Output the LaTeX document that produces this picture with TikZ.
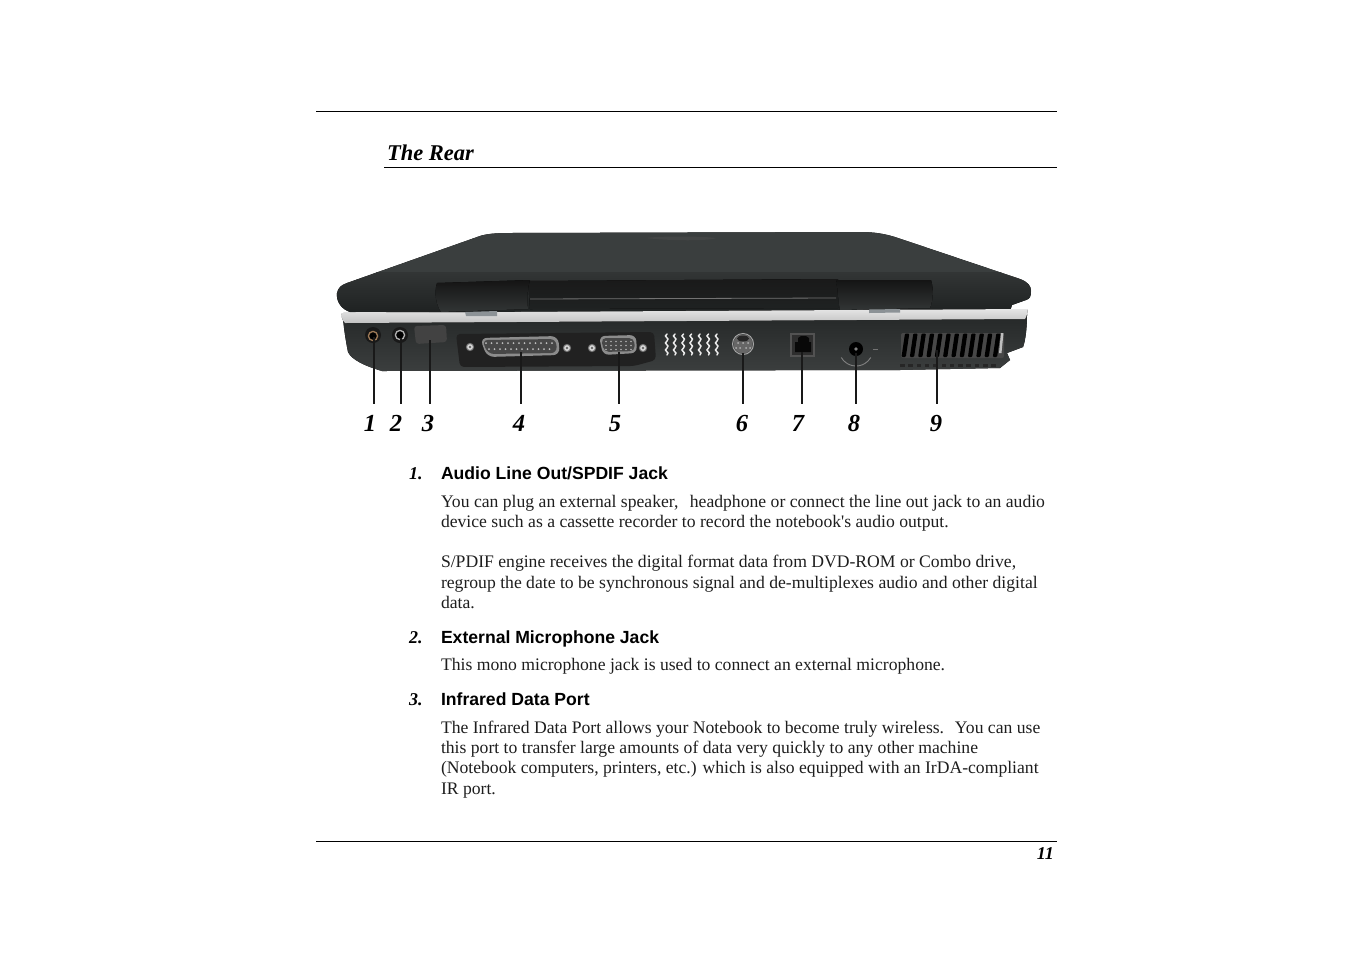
\documentclass[tikz,border=0pt]{standalone}
\usepackage{fontspec}
\setmainfont{Liberation Serif}
\newfontfamily\hsans{Liberation Sans}
\usetikzlibrary{calc}
\definecolor{ink}{HTML}{1E1E1E}
\definecolor{lidA}{HTML}{4B5050}
\definecolor{lidE}{HTML}{3A3E3E}
\definecolor{lidD}{HTML}{323535}
\definecolor{lidB}{HTML}{1F2222}
\definecolor{bodyA}{HTML}{252828}
\definecolor{bodyB}{HTML}{3B3E3E}
\definecolor{steel}{HTML}{8C9296}
\tikzset{
  rulefine/.style={line width=0.9pt,black},
  leader/.style={line width=1.6pt,black!90},
  bodytext/.style={anchor=base west,inner sep=0,outer sep=0,text=ink,font=\fontsize{17.64}{20}\selectfont},
  headtext/.style={anchor=base west,inner sep=0,outer sep=0,text=black,font=\hsans\bfseries\fontsize{17.6}{20}\selectfont},
  headnum/.style={anchor=base west,inner sep=0,outer sep=0,text=black,font=\bfseries\itshape\fontsize{18}{20}\selectfont},
  calloutnum/.style={anchor=base,inner sep=0,outer sep=0,text=black,font=\bfseries\itshape\fontsize{24.5}{28}\selectfont},
  titletext/.style={anchor=base west,inner sep=0,outer sep=0,text=black,font=\bfseries\itshape\fontsize{22.5}{26}\selectfont},
  screw/.style={fill=black!15,draw=black!55,line width=1pt},
}
\begin{document}
\begin{tikzpicture}[x=1pt,y=-1pt]
\useasboundingbox (0,0) rectangle (1351,954);
\fill[white] (0,0) rectangle (1351,954);
% rules
\coordinate (r1a) at (316,111.5); \coordinate (r1b) at (1057,111.5);
\coordinate (r2a) at (384,167.5); \coordinate (r2b) at (1057,167.5);
\coordinate (r3a) at (316,841.5); \coordinate (r3b) at (1057,841.5);
\draw[rulefine] (r1a)--(r1b);
\draw[rulefine] (r2a)--(r2b);
\draw[rulefine] (r3a)--(r3b);
\node[titletext] (title) at (387,160) {The Rear};
\node[anchor=base east,inner sep=0,font=\bfseries\itshape\fontsize{18}{20}\selectfont] (pageno) at (1054,859) {11};

% ---- laptop: lid
\begin{scope}
\clip
 (337,293) .. controls (338,288) and (341,285) .. (347,283)
 -- (480,236) .. controls (486,234) and (495,233) .. (510,233)
 -- (860,232) .. controls (875,232) and (885,234) .. (895,237)
 -- (1020,279) .. controls (1028,282) and (1031,286) .. (1031,291)
 .. controls (1031,296) and (1030,299) .. (1026,300)
 -- (1012,305) -- (1010,311) -- (350,312)
 .. controls (341,309) and (336,301) .. (337,293) -- cycle;
\fill[left color=lidE,middle color=lidA,right color=lidE] (330,230) rectangle (1040,272);
\fill[top color=lidD,bottom color=lidB] (330,272) rectangle (1040,312);
\fill[black!70,opacity=.55] (646,238) .. controls (670,241) and (710,241) .. (716,238) .. controls (700,236) and (660,236) .. (646,238) -- cycle;
\end{scope}
% centre bar
\fill[top color=black!90,bottom color=lidB] (528,281) -- (838,279) -- (838,308) -- (530,309) -- cycle;
\draw[black!55,line width=.8pt] (530,299) -- (836,298);
% hinges
\fill[top color=black!92,bottom color=lidD] (437,283) -- (530,280)
  .. controls (527,290) and (527,300) .. (528,309) -- (441,312)
  .. controls (436,305) and (434,292) .. (437,283) -- cycle;
\fill[top color=black!92,bottom color=lidD] (836,280) -- (931,280)
  .. controls (934,290) and (933,300) .. (930,308) -- (840,310)
  .. controls (838,300) and (838,290) .. (836,280) -- cycle;

% ---- base
\fill[top color=bodyA,bottom color=bodyB]
 (343,318) -- (1027,314)
 .. controls (1027,330) and (1025,342) .. (1023,347)
 -- (1007,353) -- (1010,360) -- (1000,368) -- (900,370) -- (382,371)
 .. controls (365,366) and (352,360) .. (348,352)
 .. controls (346,342) and (344,330) .. (343,318) -- cycle;
% silver band
\fill[top color=black!10,bottom color=black!24]
 (342,313) -- (1027,309) .. controls (1028,311) and (1027,316) .. (1025,319)
 -- (345,323) .. controls (342,320) and (341,316) .. (342,313) -- cycle;
\fill[steel] (465,312) -- (497,311) -- (497,316) -- (466,316) -- cycle;
\fill[steel] (869,309.5) -- (900,309) -- (900,312.5) -- (869,313) -- cycle;

% audio jacks
\fill[black!90] (373,335) circle (8);
\draw[brown!70!black!80,line width=1.3pt] (373,336) circle (4.6);
\fill[black] (373,336) circle (3.4);
\fill[black!90] (400,335) circle (8);
\draw[black!30,line width=1.3pt] (400,335) circle (4.6);
\fill[black] (400,335) circle (3.4);
% IR window
\fill[black!74,rounded corners=3pt] (414,326) -- (446,325) -- (447,342) -- (416,344) -- cycle;
% port panel
\fill[black!87,rounded corners=4pt] (456,334) -- (654,332) -- (656,360) -- (634,366) -- (460,367) -- cycle;
% parallel
\fill[black!45,rounded corners=7pt] (480,338) -- (558,336) -- (560,355) -- (487,357) -- cycle;
\fill[black!72,rounded corners=6pt] (482,340) -- (556,339) -- (557,353) -- (488,354) -- cycle;
\foreach \i in {0,...,12} \fill[black!25] ({486+5.5*\i},343) circle (1);
\foreach \i in {0,...,11} \fill[black!25] ({489+5.5*\i},349) circle (1);
% VGA
\fill[black!45,rounded corners=6pt] (599,336) -- (636,335) -- (637,353) -- (603,355) -- cycle;
\fill[black!72,rounded corners=5pt] (601,338) -- (634,338) -- (635,351) -- (604,352) -- cycle;
\foreach \i in {0,...,5} \foreach \j in {0,1,2} \fill[black!30] ({606+5*\i},{341.5+4*\j}) circle (.9);
% screws
\foreach \p in {(470,347),(567,348),(592,348),(643,348)} {
  \fill[screw] \p circle (3.6);
  \fill[black!60] \p circle (1.3);
}
% centre vent
\foreach \x in {667,675,683.5,691.5,700,708.5,717} {
  \draw[black!8,line width=1.5pt,line cap=round] (\x,334)
    .. controls (\x-5,337) and (\x+4,338) .. (\x,341)
    .. controls (\x-5,344) and (\x+4,345) .. (\x,348)
    .. controls (\x-5,351) and (\x+4,352) .. (\x,355);
}
% S-video
\fill[black!60] (743,344) circle (9.5);
\fill[black!85] (743,338.5) ellipse (6 and 3);
\draw[black!35,line width=1pt] (743,344) circle (10.5);
\foreach \a/\b in {738/343,743/343,748/343,736/348,740/348,746/348,750/348}
  \fill[black!30] (\a,\b) circle (1);
% RJ
\fill[black!68] (790,332.5) rectangle (815,357);
\fill[black!82] (792,334.5) rectangle (813,355);
\fill[black!97] (795,342) -- (798,342) -- (798,338) -- (801,336) -- (806,336) -- (809,338) -- (809,342) -- (811,342) -- (811,352) -- (795,352) -- cycle;
% power
\draw[black!50,line width=.9pt] (841.3,357.5) arc[start angle=150,end angle=30,radius=17];
\fill[black] (856,349) circle (7);
\fill[black!50] (856,349) circle (1.8);
\fill[black!55] (873,349) rectangle (878,350);
% right vent
\fill[black!72,rounded corners=2pt] (901,333) rectangle (1004,358);
\foreach \i in {0,...,11} {
  \fill[black,rounded corners=1pt] ({905+8.3*\i},333.5) -- ({909.3+8.3*\i},333.5) -- ({905.8+8.3*\i},357) -- ({901.5+8.3*\i},357) -- cycle;
}
\fill[black!25] (1001,333) -- (1003.5,333) -- (1001.5,353) -- (999,353) -- cycle;
\foreach \i in {0,...,11} \fill[black!85] ({900+8.3*\i},363.5) rectangle ({904.5+8.3*\i},367);

% ---- callouts
\foreach \n/\lx/\ty/\nx in {1/374/337/370,2/401/338/396,3/430/340/428,4/521/352/519,5/619/352/615,6/743/353/742,7/802/352/798,8/856/353/854,9/937/350/936} {
  \coordinate (port\n) at (\lx,\ty);
  \coordinate (foot\n) at (\lx,404);
  \node[calloutnum] (num\n) at (\nx,431) {\n};
  \draw[leader] (port\n) -- (foot\n);
}

% ---- text
\node[headnum] (h1n) at (409,479) {1.};
\node[headtext] (h1) at (441,479) {Audio Line Out/SPDIF Jack};
\node[bodytext] (t1) at (441,507) {You can plug an external speaker,\ \ \hspace{2.5pt}headphone or connect the line out jack to an audio};
\node[bodytext] (t2) at (441,527) {device such as a cassette recorder to record the notebook\textquotesingle s audio output.};
\node[bodytext] (t3) at (441,567) {S/PDIF engine receives the digital format data from DVD-ROM or Combo drive,};
\node[bodytext] (t4) at (441,588) {regroup the date to be synchronous signal and de-multiplexes audio and other digital};
\node[bodytext] (t5) at (441,608) {data.};
\node[headnum] (h2n) at (409,643) {2.};
\node[headtext] (h2) at (441,643) {External Microphone Jack};
\node[bodytext] (t6) at (441,670) {This mono microphone jack is used to connect an external microphone.};
\node[headnum] (h3n) at (409,705) {3.};
\node[headtext] (h3) at (441,705) {Infrared Data Port};
\node[bodytext] (t7) at (441,733) {The Infrared Data Port allows your Notebook to become truly wireless.\ \ \hspace{2pt}You can use};
\node[bodytext] (t8) at (441,753) {this port to transfer large amounts of data very quickly to any other machine};
\node[bodytext] (t9) at (441,773) {(Notebook computers, printers, etc.) which is also equipped with an IrDA-compliant};
\node[bodytext] (t10) at (441,794) {IR port.};
\end{tikzpicture}
\end{document}
